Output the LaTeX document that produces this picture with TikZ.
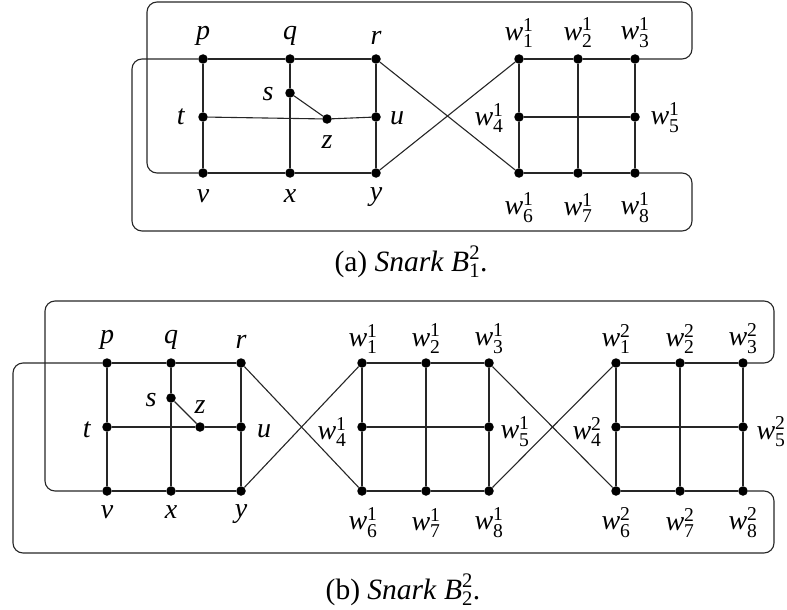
\documentclass[tikz,border=0pt]{standalone}
\usepackage{fontspec}
\setmainfont{Liberation Serif}
\usepackage{amsmath}
\newcommand{\wl}[2]{$\textit{w}^{\textup{#1}}_{\textup{#2}}$}
\begin{document}
\begin{tikzpicture}[x=1pt,y=-1pt,
  dot/.style={circle,fill=black,inner sep=0pt,minimum size=9.5pt},
  lab/.style={inner sep=0pt,font=\fontsize{28}{32}\selectfont},
  captext/.style={inner sep=0pt,anchor=base,font=\fontsize{29.5}{34}\selectfont},
  edge/.style={line width=1.1pt,black!85},
  loopline/.style={line width=1.1pt,black!85,rounded corners=10pt}]
\useasboundingbox (0,0) rectangle (787,610);
% ---------- (a) ----------
\node[dot] (p) at (203,59) {};
\node[dot] (q) at (290,59) {};
\node[dot] (r) at (376,59) {};
\node[dot] (s) at (290,93) {};
\node[dot] (t) at (203,117) {};
\node[dot] (z) at (327,119) {};
\node[dot] (u) at (376,117) {};
\node[dot] (v) at (203,173) {};
\node[dot] (x) at (290,173) {};
\node[dot] (y) at (376,173) {};
\node[dot] (a1) at (519,59) {};
\node[dot] (a2) at (578,59) {};
\node[dot] (a3) at (635,59) {};
\node[dot] (a4) at (519,117) {};
\node[dot] (a5) at (635,117) {};
\node[dot] (a6) at (519,173) {};
\node[dot] (a7) at (578,173) {};
\node[dot] (a8) at (635,173) {};
\draw[edge] (p) -- (q) -- (r);
\draw[edge] (v) -- (x) -- (y);
\draw[edge] (p) -- (t) -- (v);
\draw[edge] (q) -- (s) -- (x);
\draw[edge] (r) -- (u) -- (y);
\draw[edge] (t) -- (z) -- (u);
\draw[edge] (s) -- (z);
\draw[edge] (r) -- (a6);
\draw[edge] (y) -- (a1);
\draw[edge] (a1) -- (a2) -- (a3);
\draw[edge] (a6) -- (a7) -- (a8);
\draw[edge] (a1) -- (a4) -- (a6);
\draw[edge] (a2) -- (a7);
\draw[edge] (a3) -- (a5) -- (a8);
\draw[edge] (a4) -- (a5);
\draw[loopline] (v) -| (147,2) -| (692,59) -- (a3);
\draw[loopline] (p) -| (132,231) -| (692,173) -- (a8);
\node[lab] (lp) at (203,36) {\textit{p}};
\node[lab] (lq) at (290,36) {\textit{q}};
\node[lab] (lr) at (376,38) {\textit{r}};
\node[lab] (ls) at (268,94) {\textit{s}};
\node[lab] (lt) at (181,117) {\textit{t}};
\node[lab] (lz) at (327,142) {\textit{z}};
\node[lab] (lu) at (397,118) {\textit{u}};
\node[lab] (lv) at (203,196) {\textit{v}};
\node[lab] (lx) at (290,196) {\textit{x}};
\node[lab] (ly) at (376,197) {\textit{y}};
\node[lab] (la1) at (519,33) {\wl{1}{1}};
\node[lab] (la2) at (578,33) {\wl{1}{2}};
\node[lab] (la3) at (635,33) {\wl{1}{3}};
\node[lab] (la4) at (489,118) {\wl{1}{4}};
\node[lab] (la5) at (665,118) {\wl{1}{5}};
\node[lab] (la6) at (519,208) {\wl{1}{6}};
\node[lab] (la7) at (578,208) {\wl{1}{7}};
\node[lab] (la8) at (635,208) {\wl{1}{8}};
\node[captext] (capa) at (411,271) {(a) \textit{Snark} $\textit{B}^{\textup{2}}_{\textup{1}}$.};
% ---------- (b) ----------
\node[dot] (P) at (107,363) {};
\node[dot] (Q) at (171,363) {};
\node[dot] (R) at (241,363) {};
\node[dot] (S) at (171,398) {};
\node[dot] (T) at (107,427) {};
\node[dot] (Z) at (200,427) {};
\node[dot] (U) at (241,427) {};
\node[dot] (V) at (107,491) {};
\node[dot] (X) at (171,491) {};
\node[dot] (Y) at (241,491) {};
\node[dot] (b1) at (362,363) {};
\node[dot] (b2) at (426,363) {};
\node[dot] (b3) at (489,363) {};
\node[dot] (b4) at (362,427) {};
\node[dot] (b5) at (489,427) {};
\node[dot] (b6) at (362,491) {};
\node[dot] (b7) at (426,491) {};
\node[dot] (b8) at (489,491) {};
\node[dot] (c1) at (616,363) {};
\node[dot] (c2) at (680,363) {};
\node[dot] (c3) at (743,363) {};
\node[dot] (c4) at (616,427) {};
\node[dot] (c5) at (743,427) {};
\node[dot] (c6) at (616,491) {};
\node[dot] (c7) at (680,491) {};
\node[dot] (c8) at (743,491) {};
\draw[edge] (P) -- (Q) -- (R);
\draw[edge] (V) -- (X) -- (Y);
\draw[edge] (P) -- (T) -- (V);
\draw[edge] (Q) -- (S) -- (X);
\draw[edge] (R) -- (U) -- (Y);
\draw[edge] (T) -- (Z) -- (U);
\draw[edge] (S) -- (Z);
\draw[edge] (R) -- (b6);
\draw[edge] (Y) -- (b1);
\draw[edge] (b1) -- (b2) -- (b3);
\draw[edge] (b6) -- (b7) -- (b8);
\draw[edge] (b1) -- (b4) -- (b6);
\draw[edge] (b2) -- (b7);
\draw[edge] (b3) -- (b5) -- (b8);
\draw[edge] (b4) -- (b5);
\draw[edge] (b3) -- (c6);
\draw[edge] (b8) -- (c1);
\draw[edge] (c1) -- (c2) -- (c3);
\draw[edge] (c6) -- (c7) -- (c8);
\draw[edge] (c1) -- (c4) -- (c6);
\draw[edge] (c2) -- (c7);
\draw[edge] (c3) -- (c5) -- (c8);
\draw[edge] (c4) -- (c5);
\draw[loopline] (V) -| (45,301) -| (774,363) -- (c3);
\draw[loopline] (P) -| (13,553) -| (774,491) -- (c8);
\node[lab] (lP) at (107,340) {\textit{p}};
\node[lab] (lQ) at (171,340) {\textit{q}};
\node[lab] (lR) at (241,342) {\textit{r}};
\node[lab] (lS) at (151,400) {\textit{s}};
\node[lab] (lT) at (87,430) {\textit{t}};
\node[lab] (lZ) at (200,407) {\textit{z}};
\node[lab] (lU) at (264,431) {\textit{u}};
\node[lab] (lV) at (107,512) {\textit{v}};
\node[lab] (lX) at (171,512) {\textit{x}};
\node[lab] (lY) at (241,514) {\textit{y}};
\node[lab] (lb1) at (363,339) {\wl{1}{1}};
\node[lab] (lb2) at (426,339) {\wl{1}{2}};
\node[lab] (lb3) at (489,339) {\wl{1}{3}};
\node[lab] (lb4) at (332,432) {\wl{1}{4}};
\node[lab] (lb5) at (515,432) {\wl{1}{5}};
\node[lab] (lb6) at (363,523) {\wl{1}{6}};
\node[lab] (lb7) at (426,523) {\wl{1}{7}};
\node[lab] (lb8) at (489,523) {\wl{1}{8}};
\node[lab] (lc1) at (616,339) {\wl{2}{1}};
\node[lab] (lc2) at (680,339) {\wl{2}{2}};
\node[lab] (lc3) at (743,339) {\wl{2}{3}};
\node[lab] (lc4) at (587,432) {\wl{2}{4}};
\node[lab] (lc5) at (771,432) {\wl{2}{5}};
\node[lab] (lc6) at (616,523) {\wl{2}{6}};
\node[lab] (lc7) at (680,523) {\wl{2}{7}};
\node[lab] (lc8) at (743,523) {\wl{2}{8}};
\node[captext] (capb) at (403,599) {(b) \textit{Snark} $\textit{B}^{\textup{2}}_{\textup{2}}$.};
\end{tikzpicture}
\end{document}
